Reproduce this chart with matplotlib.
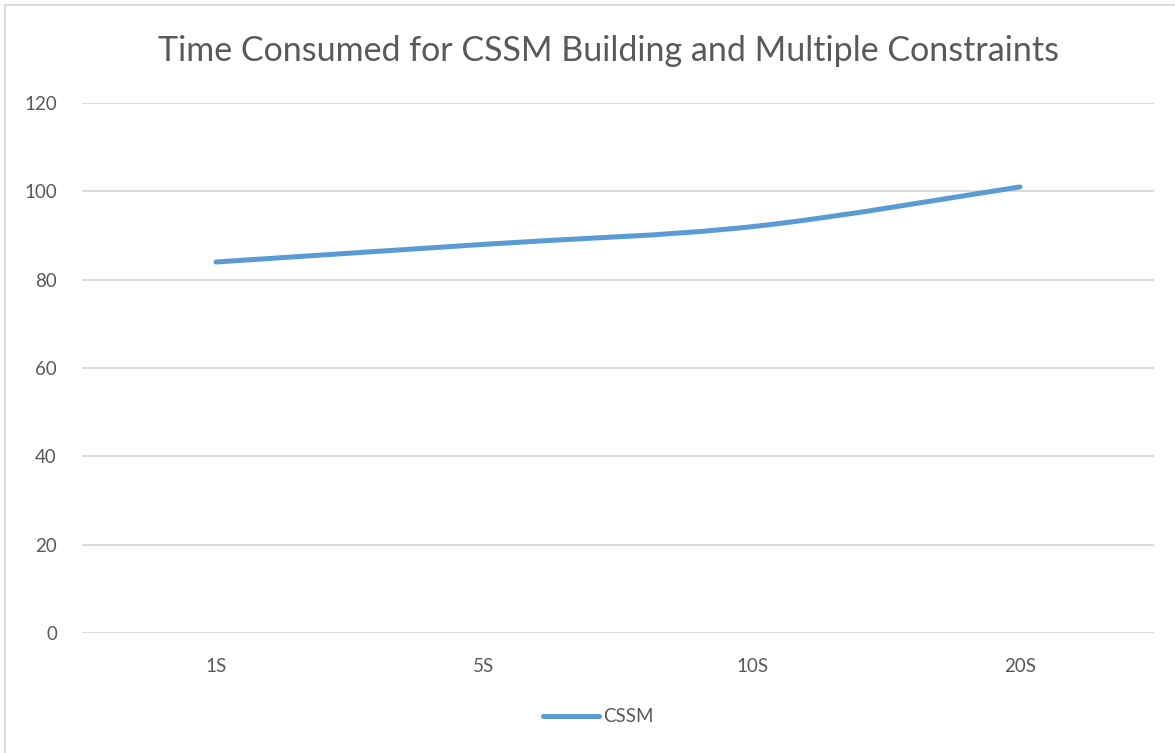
import numpy as np
import matplotlib.pyplot as plt
from matplotlib.path import Path
from matplotlib.patches import PathPatch
from matplotlib.lines import Line2D

categories = ['1S', '5S', '10S', '20S']
cssm = [84, 88, 92, 101]

plt.rcParams['font.family'] = ['Lato', 'DejaVu Sans']
text_color = '#595959'
line_color = '#5B9BD5'

fig = plt.figure(figsize=(11.75, 7.53), dpi=100)
ax = fig.add_axes([82/1175, 1-633/753, 1072/1175, 530/753])

x = np.arange(len(categories))
y = np.array(cssm, dtype=float)

# smoothed line (Catmull-Rom as cubic Bezier, like Excel's smooth line)
verts = [(x[0], y[0])]
codes = [Path.MOVETO]
n = len(x)
for i in range(n - 1):
    p0 = (x[max(i-1, 0)], y[max(i-1, 0)])
    p1 = (x[i], y[i])
    p2 = (x[i+1], y[i+1])
    p3 = (x[min(i+2, n-1)], y[min(i+2, n-1)])
    c1 = (p1[0] + (p2[0]-p0[0])/6, p1[1] + (p2[1]-p0[1])/6)
    c2 = (p2[0] - (p3[0]-p1[0])/6, p2[1] - (p3[1]-p1[1])/6)
    verts += [c1, c2, p2]
    codes += [Path.CURVE4]*3
ax.add_patch(PathPatch(Path(verts, codes), facecolor='none', edgecolor=line_color,
                       lw=3.6, capstyle='round', joinstyle='round', zorder=3))

ax.set_xlim(-0.5, n-0.5)
ax.set_ylim(0, 120)
ax.set_yticks(range(0, 121, 20))
ax.set_xticks(x)
ax.set_xticklabels(categories)
ax.grid(axis='y', color='#D9D9D9', lw=1.3)
ax.set_axisbelow(True)
for s in ax.spines.values():
    s.set_visible(False)
ax.tick_params(length=0, labelsize=13.5, colors=text_color)
ax.tick_params(axis='x', pad=18)
ax.tick_params(axis='y', pad=18)

fig.text(608/1175, 1-51/753, 'Time Consumed for CSSM Building and Multiple Constraints',
         ha='center', va='center', fontsize=24.5, color=text_color)

handle = Line2D([], [], color=line_color, lw=3.6, solid_capstyle='round')
ax.legend([handle], ['CSSM'], loc='center', bbox_to_anchor=(598/1175, 1-717/753),
          bbox_transform=fig.transFigure, frameon=False, fontsize=13.5,
          labelcolor=text_color, handlelength=3.0, handletextpad=0.2)

# chart border
fig.add_artist(Line2D([5/1175, 5/1175], [0, 1-5/753], color='#D9D9D9', lw=1.3))
fig.add_artist(Line2D([5/1175, 1], [1-5/753, 1-5/753], color='#D9D9D9', lw=1.3))

fig.savefig('out.png', dpi=100)
